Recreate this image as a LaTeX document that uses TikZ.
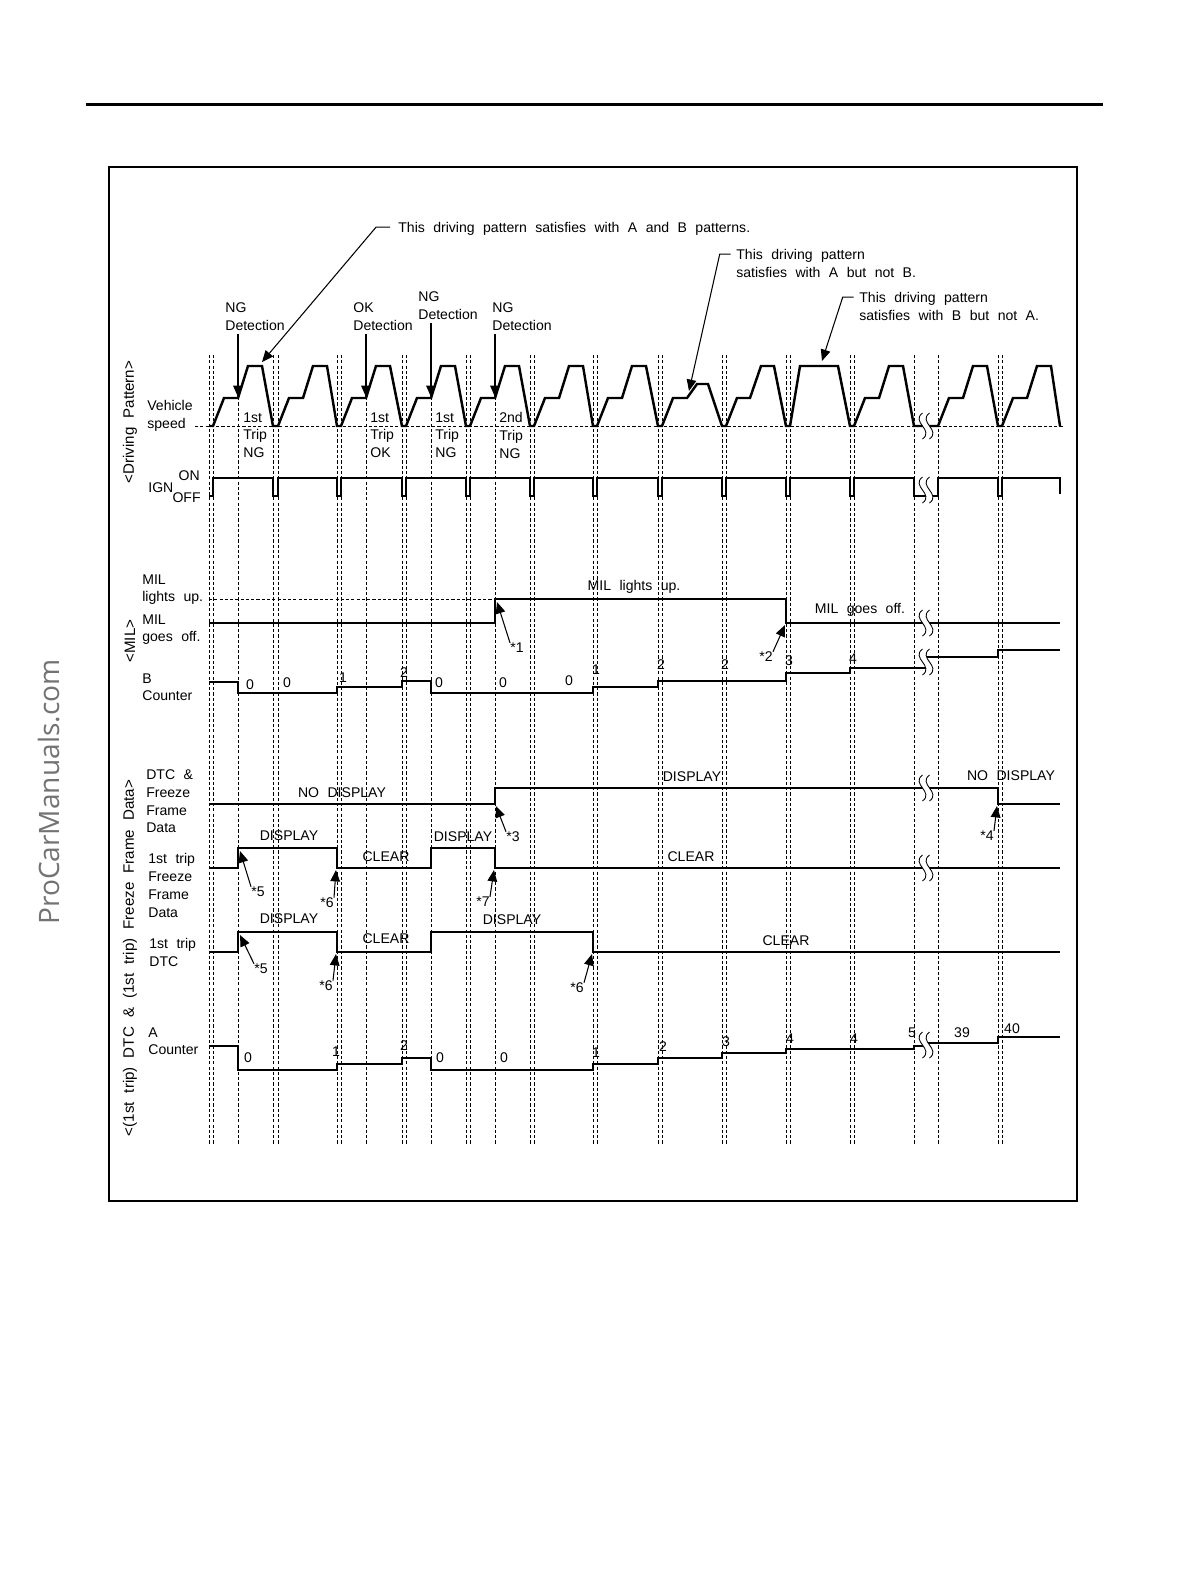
\documentclass[tikz,border=0pt]{standalone}
\usepackage{fontspec}
\setmainfont{Liberation Sans}
\newfontfamily\wmfont{Open Sans}
\usetikzlibrary{arrows.meta}

\newcommand\lblfont{\fontsize{8}{10.2}\selectfont\spaceskip=0.6em\relax}
\newcommand\grpfont{\fontsize{8.6}{10.2}\selectfont\spaceskip=0.6em\relax}
\newcommand\brkmark[2]{%
  \fill[white] (#1-3.5,#2-13) .. controls (#1-15.5,#2-4) and (#1+8.5,#2+4) .. (#1-3.5,#2+13)
    -- (#1+3.5,#2+13) .. controls (#1+15.5,#2+4) and (#1-8.5,#2-4) .. (#1+3.5,#2-13) -- cycle;
  \draw[line width=0.5pt] (#1-3.5,#2-13) .. controls (#1-15.5,#2-4) and (#1+8.5,#2+4) .. (#1-3.5,#2+13)
    (#1+3.5,#2-13) .. controls (#1-8.5,#2-4) and (#1+15.5,#2+4) .. (#1+3.5,#2+13);}

\tikzset{
  sig/.style={line width=1.4pt},
  guide/.style={line width=0.5pt, dash pattern=on 1.8pt off 1.2pt},
  txt/.style={font=\lblfont, inner sep=0pt, align=left, anchor=north west},
  note/.style={font=\lblfont, inner sep=0pt},
  ptr/.style={line width=0.6pt, -{Triangle[length=6.5pt,width=5.5pt]}},
}

\begin{document}
\begin{tikzpicture}[x=0.02cm, y=-0.02cm]
  \useasboundingbox (0,0) rectangle (1191,1587);
  \draw[line width=1.7pt] (86,104) -- (1103,104);
  \draw[line width=1.1pt] (109,167) rectangle (1077,1201);
  \node[rotate=90, text=black!55, font=\wmfont\fontsize{16}{19}\selectfont] (wm) at (49,792) {ProCarManuals.com};

  \foreach \x in {209,213,238,273,278,337,341,366,402,406,431,466,470,495,530,534,593,597,658,662,722,726,786,790,850,854,914,938,998,1002}
    \draw[guide] (\x,355) -- (\x,1145);
  \draw[guide] (195,426) -- (1063,426);
  \draw[guide] (209,599) -- (495,599);

  \draw[sig] (209,426)
    \foreach \p/\q in {213/273,278/337,341/402,406/466,470/530,534/593,597/658}
      { -- (\p,426) -- (\p+11,398) -- (\p+25,398) -- (\p+35,366) -- (\p+49,366) -- (\q,426) }
    -- (662,426) -- (673,398) -- (687,398) -- (697,384) -- (708,384) -- (722,426)
    -- (726,426) -- (737,398) -- (750,398) -- (761,366) -- (774,366) -- (786,426)
    -- (790,426) -- (800,366) -- (838,366) -- (850,426)
    \foreach \p/\q in {854/914,938/998,1002/1060}
      { -- (\p,426) -- (\p+11,398) -- (\p+25,398) -- (\p+35,366) -- (\p+49,366) -- (\q,426) };
  \draw[sig] (209,496) -- (213,496) -- (213,478)
    \foreach \p/\q in {273/278,337/341,402/406,466/470,530/534,593/597,658/662,722/726,786/790,850/854,914/938,998/1002}
      { -- (\p,478) -- (\p,496) -- (\q,496) -- (\q,478) }
    -- (1060,478) -- (1060,494);
  \draw[sig] (209,623) -- (495,623) -- (495,599) -- (786,599) -- (786,623) -- (1060,623);
  \draw[sig] (209,682) -- (238,682) -- (238,693) -- (337,693) -- (337,687) -- (402,687) -- (402,681) -- (431,681)
    -- (431,693) -- (593,693) -- (593,687) -- (658,687) -- (658,681) -- (786,681) -- (786,673) -- (850,673)
    -- (850,668) -- (926,668);
  \draw[sig] (926,657) -- (998,657) -- (998,650) -- (1060,650);
  \draw[sig] (209,804) -- (495,804) -- (495,788) -- (998,788) -- (998,804) -- (1060,804);
  \draw[sig] (209,868) -- (238,868) -- (238,848) -- (337,848) -- (337,868) -- (431,868) -- (431,848) -- (495,848)
    -- (495,868) -- (1060,868);
  \draw[sig] (209,952) -- (238,952) -- (238,932) -- (337,932) -- (337,952) -- (431,952) -- (431,932) -- (593,932)
    -- (593,952) -- (1060,952);
  \draw[sig] (209,1046) -- (238,1046) -- (238,1070) -- (337,1070) -- (337,1064) -- (402,1064) -- (402,1058)
    -- (431,1058) -- (431,1070) -- (593,1070) -- (593,1064) -- (658,1064) -- (658,1058) -- (722,1058)
    -- (722,1053) -- (786,1053) -- (786,1049) -- (914,1049) -- (914,1046) -- (926,1046);
  \draw[sig] (926,1043) -- (998,1043) -- (998,1037) -- (1060,1037);

  \brkmark{926}{426}
  \brkmark{926}{490}
  \brkmark{926}{623}
  \brkmark{926}{662}
  \brkmark{926}{788}
  \brkmark{926}{868}
  \brkmark{926}{1045}

  \node[note, font=\grpfont, rotate=90] (grpdrv) at (130,422) {<Driving Pattern>};
  \node[note, font=\grpfont, rotate=90] (grpmil) at (130,641) {<MIL>};
  \node[note, font=\grpfont, rotate=90] (grpdtc) at (130,958) {<(1st trip) DTC \& (1st trip) Freeze Frame Data>};

  \node[txt] (speed) at (147,400) {Vehicle\\speed};
  \node[txt] (ign) at (148,482) {IGN};
  \node[txt, anchor=north east] (on) at (200,470) {ON};
  \node[txt, anchor=north east] (off) at (201,492) {OFF};
  \node[txt] (milup) at (142,574) {MIL\\lights up.};
  \node[txt] (miloff) at (142,614) {MIL\\goes off.};
  \node[txt] (bcnt) at (142,673) {B\\Counter};
  \node[txt] (dtcffd) at (146,769) {DTC \&\\Freeze\\Frame\\Data};
  \node[txt] (ffd) at (148,853) {1st trip\\Freeze\\Frame\\Data};
  \node[txt] (dtc) at (149,938) {1st trip\\DTC};
  \node[txt] (acnt) at (148,1027) {A\\Counter};

  \node[txt] (trip1) at (243,412) {1st\\Trip\\NG};
  \node[txt] (trip2) at (370,412) {1st\\Trip\\OK};
  \node[txt] (trip3) at (435,412) {1st\\Trip\\NG};
  \node[txt] (trip4) at (499,412) {2nd\\Trip\\NG};

  \node[txt] (det1) at (225,302) {NG\\Detection};
  \node[txt] (det2) at (353,302) {OK\\Detection};
  \node[txt] (det3) at (418,291) {NG\\Detection};
  \node[txt] (det4) at (492,302) {NG\\Detection};
  \coordinate (d1) at (238,397);
  \coordinate (d2) at (366,397);
  \coordinate (d3) at (431,397);
  \coordinate (d4) at (495,397);
  \draw[ptr, shorten <=2pt] (det1.south -| d1) -- (d1);
  \draw[ptr, shorten <=2pt] (det2.south -| d2) -- (d2);
  \draw[ptr, shorten <=2pt] (det3.south -| d3) -- (d3);
  \draw[ptr, shorten <=2pt] (det4.south -| d4) -- (d4);

  \node[txt] (patab) at (398,222) {This driving pattern satisfies with A and B patterns.};
  \node[txt] (pata) at (736,249) {This driving pattern\\satisfies with A but not B.};
  \node[txt] (patb) at (859,292) {This driving pattern\\satisfies with B but not A.};
  \coordinate (tab) at (262,362);
  \coordinate (ta) at (689,391);
  \coordinate (tb) at (822,361);
  \draw[ptr] ([xshift=-4.5pt, yshift=-2.9pt]patab.north west) -- ++(-14,0) -- (tab);
  \draw[ptr] ([xshift=-3pt, yshift=-2.9pt]pata.north west) -- ++(-11,0) -- (ta);
  \draw[ptr] ([xshift=-3pt, yshift=-2.9pt]patb.north west) -- ++(-11,0) -- (tb);

  \node[note] (milon) at (634,587) {MIL lights up.};
  \node[note] (milgo) at (860,610) {MIL goes off.};
  \foreach \val/\x/\y [count=\i] in {0/250/685,0/287/683,1/343/678,2/404/673,0/439/683,0/503/683,0/569/681,1/596/670,2/661/665,2/725/665,3/789/661,4/853/659}
    \node[note] (b\i) at (\x,\y) {\val};

  \node[note] (nodisp1) at (342,793) {NO DISPLAY};
  \node[note] (disp1) at (692,777) {DISPLAY};
  \node[note] (nodisp2) at (1011,776) {NO DISPLAY};
  \node[note] (disp2) at (289,836) {DISPLAY};
  \node[note] (clr1) at (386,857) {CLEAR};
  \node[note] (disp3) at (463,837) {DISPLAY};
  \node[note] (clr2) at (691,857) {CLEAR};
  \node[note] (disp4) at (289,919) {DISPLAY};
  \node[note] (clr3) at (386,939) {CLEAR};
  \node[note] (disp5) at (512,920) {DISPLAY};
  \node[note] (clr4) at (786,941) {CLEAR};
  \foreach \val/\x/\y [count=\i] in {0/248/1058,1/336/1052,2/404/1046,0/440/1058,0/504/1058,1/596/1053,2/663/1047,3/726/1042,4/790/1039,4/854/1039,5/912/1033,39/962/1033,40/1012/1029}
    \node[note] (a\i) at (\x,\y) {\val};

  \node[note] (st1) at (517,648) {*1};
  \node[note] (st2) at (766,657) {*2};
  \node[note] (st3) at (513,837) {*3};
  \node[note] (st4) at (987,836) {*4};
  \node[note] (st5a) at (258,892) {*5};
  \node[note] (st6a) at (327,903) {*6};
  \node[note] (st7) at (483,902) {*7};
  \node[note] (st5b) at (261,969) {*5};
  \node[note] (st6b) at (326,986) {*6};
  \node[note] (st6c) at (577,988) {*6};
  \coordinate (pt1) at (497,602);
  \coordinate (pt2) at (785,625);
  \coordinate (pt3) at (496,806);
  \coordinate (pt4) at (997,806);
  \coordinate (pt5a) at (240,851);
  \coordinate (pt6a) at (336,870);
  \coordinate (pt7) at (494,870);
  \coordinate (pt5b) at (240,935);
  \coordinate (pt6b) at (336,954);
  \coordinate (pt6c) at (592,954);
  \draw[ptr] (st1.north west) -- (pt1);
  \draw[ptr] (st2.north east) -- (pt2);
  \draw[ptr] (st3.north west) -- (pt3);
  \draw[ptr] (st4.north east) -- (pt4);
  \draw[ptr] (st5a.north west) -- (pt5a);
  \draw[ptr] (st6a.north east) -- (pt6a);
  \draw[ptr] (st7.north east) -- (pt7);
  \draw[ptr] (st5b.north west) -- (pt5b);
  \draw[ptr] (st6b.north east) -- (pt6b);
  \draw[ptr] (st6c.north east) -- (pt6c);
\end{tikzpicture}
\end{document}
